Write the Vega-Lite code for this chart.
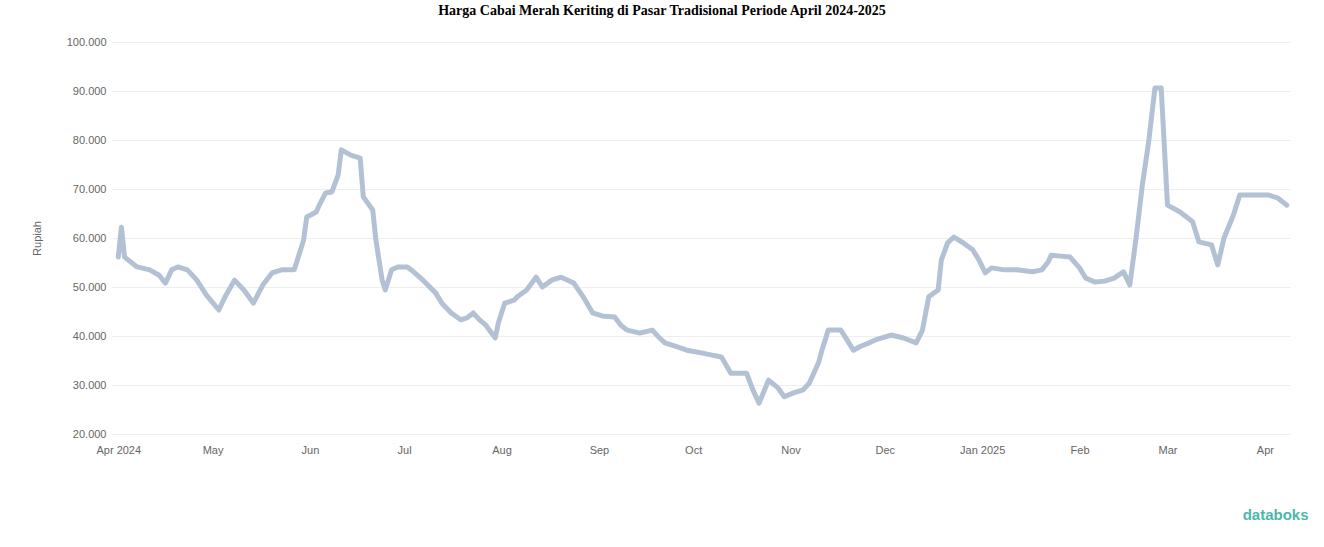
{
  "$schema": "https://vega.github.io/schema/vega-lite/v6.json",
  "autosize": "none",
  "width": 1178,
  "height": 392,
  "padding": {"left": 112, "top": 42, "right": 34, "bottom": 113},
  "background": "white",
  "title": {
    "text": "Harga Cabai Merah Keriting di Pasar Tradisional Periode April 2024-2025",
    "font": "Liberation Serif",
    "fontSize": 14,
    "fontWeight": "bold",
    "color": "#000000",
    "anchor": "middle",
    "dx": -39,
    "offset": 18
  },
  "config": {
    "view": {"stroke": null},
    "axis": {"labelFont": "Liberation Sans", "titleFont": "Liberation Sans"}
  },
  "data": {
    "values": [
      {"date": "2024-04-01", "price": 56100},
      {"date": "2024-04-02", "price": 62200},
      {"date": "2024-04-03", "price": 56100},
      {"date": "2024-04-07", "price": 54100},
      {"date": "2024-04-11", "price": 53500},
      {"date": "2024-04-14", "price": 52400},
      {"date": "2024-04-16", "price": 50800},
      {"date": "2024-04-18", "price": 53500},
      {"date": "2024-04-20", "price": 54100},
      {"date": "2024-04-23", "price": 53500},
      {"date": "2024-04-26", "price": 51400},
      {"date": "2024-04-29", "price": 48400},
      {"date": "2024-05-03", "price": 45300},
      {"date": "2024-05-05", "price": 48000},
      {"date": "2024-05-08", "price": 51400},
      {"date": "2024-05-11", "price": 49400},
      {"date": "2024-05-14", "price": 46700},
      {"date": "2024-05-17", "price": 50400},
      {"date": "2024-05-20", "price": 52900},
      {"date": "2024-05-23", "price": 53500},
      {"date": "2024-05-27", "price": 53500},
      {"date": "2024-05-28", "price": 55500},
      {"date": "2024-05-30", "price": 59600},
      {"date": "2024-05-31", "price": 64300},
      {"date": "2024-06-03", "price": 65300},
      {"date": "2024-06-04", "price": 66700},
      {"date": "2024-06-06", "price": 69200},
      {"date": "2024-06-08", "price": 69400},
      {"date": "2024-06-10", "price": 72900},
      {"date": "2024-06-11", "price": 78000},
      {"date": "2024-06-14", "price": 76900},
      {"date": "2024-06-17", "price": 76300},
      {"date": "2024-06-18", "price": 68400},
      {"date": "2024-06-21", "price": 65700},
      {"date": "2024-06-22", "price": 59600},
      {"date": "2024-06-24", "price": 51400},
      {"date": "2024-06-25", "price": 49400},
      {"date": "2024-06-27", "price": 53500},
      {"date": "2024-06-29", "price": 54100},
      {"date": "2024-07-02", "price": 54100},
      {"date": "2024-07-04", "price": 53100},
      {"date": "2024-07-07", "price": 51400},
      {"date": "2024-07-11", "price": 48800},
      {"date": "2024-07-13", "price": 46700},
      {"date": "2024-07-16", "price": 44700},
      {"date": "2024-07-19", "price": 43300},
      {"date": "2024-07-21", "price": 43700},
      {"date": "2024-07-23", "price": 44700},
      {"date": "2024-07-25", "price": 43300},
      {"date": "2024-07-27", "price": 42200},
      {"date": "2024-07-30", "price": 39600},
      {"date": "2024-07-31", "price": 42700},
      {"date": "2024-08-02", "price": 46700},
      {"date": "2024-08-05", "price": 47300},
      {"date": "2024-08-06", "price": 48000},
      {"date": "2024-08-09", "price": 49400},
      {"date": "2024-08-12", "price": 52000},
      {"date": "2024-08-14", "price": 50000},
      {"date": "2024-08-17", "price": 51400},
      {"date": "2024-08-20", "price": 52000},
      {"date": "2024-08-24", "price": 50800},
      {"date": "2024-08-27", "price": 48000},
      {"date": "2024-08-30", "price": 44700},
      {"date": "2024-09-02", "price": 44100},
      {"date": "2024-09-06", "price": 43900},
      {"date": "2024-09-08", "price": 42200},
      {"date": "2024-09-10", "price": 41200},
      {"date": "2024-09-14", "price": 40600},
      {"date": "2024-09-18", "price": 41200},
      {"date": "2024-09-20", "price": 39800},
      {"date": "2024-09-22", "price": 38600},
      {"date": "2024-09-26", "price": 37800},
      {"date": "2024-09-29", "price": 37100},
      {"date": "2024-10-04", "price": 36500},
      {"date": "2024-10-07", "price": 36100},
      {"date": "2024-10-10", "price": 35700},
      {"date": "2024-10-13", "price": 32400},
      {"date": "2024-10-16", "price": 32400},
      {"date": "2024-10-18", "price": 32400},
      {"date": "2024-10-20", "price": 29000},
      {"date": "2024-10-22", "price": 26300},
      {"date": "2024-10-25", "price": 31000},
      {"date": "2024-10-28", "price": 29400},
      {"date": "2024-10-30", "price": 27600},
      {"date": "2024-11-02", "price": 28400},
      {"date": "2024-11-05", "price": 29000},
      {"date": "2024-11-07", "price": 30400},
      {"date": "2024-11-10", "price": 34700},
      {"date": "2024-11-11", "price": 37100},
      {"date": "2024-11-13", "price": 41200},
      {"date": "2024-11-17", "price": 41200},
      {"date": "2024-11-19", "price": 39200},
      {"date": "2024-11-21", "price": 37100},
      {"date": "2024-11-23", "price": 37800},
      {"date": "2024-11-26", "price": 38600},
      {"date": "2024-11-28", "price": 39200},
      {"date": "2024-12-03", "price": 40200},
      {"date": "2024-12-07", "price": 39600},
      {"date": "2024-12-11", "price": 38600},
      {"date": "2024-12-13", "price": 41200},
      {"date": "2024-12-15", "price": 48000},
      {"date": "2024-12-18", "price": 49400},
      {"date": "2024-12-19", "price": 55500},
      {"date": "2024-12-21", "price": 59000},
      {"date": "2024-12-23", "price": 60200},
      {"date": "2024-12-26", "price": 59000},
      {"date": "2024-12-29", "price": 57600},
      {"date": "2024-12-31", "price": 55500},
      {"date": "2025-01-02", "price": 52900},
      {"date": "2025-01-04", "price": 53900},
      {"date": "2025-01-08", "price": 53500},
      {"date": "2025-01-12", "price": 53500},
      {"date": "2025-01-17", "price": 53100},
      {"date": "2025-01-20", "price": 53500},
      {"date": "2025-01-22", "price": 55100},
      {"date": "2025-01-23", "price": 56500},
      {"date": "2025-01-26", "price": 56300},
      {"date": "2025-01-29", "price": 56100},
      {"date": "2025-02-01", "price": 53900},
      {"date": "2025-02-03", "price": 51800},
      {"date": "2025-02-06", "price": 51000},
      {"date": "2025-02-09", "price": 51200},
      {"date": "2025-02-12", "price": 51800},
      {"date": "2025-02-15", "price": 53100},
      {"date": "2025-02-17", "price": 50400},
      {"date": "2025-02-19", "price": 60000},
      {"date": "2025-02-21", "price": 70800},
      {"date": "2025-02-23", "price": 79600},
      {"date": "2025-02-25", "price": 90600},
      {"date": "2025-02-27", "price": 90600},
      {"date": "2025-03-01", "price": 66700},
      {"date": "2025-03-05", "price": 65300},
      {"date": "2025-03-09", "price": 63300},
      {"date": "2025-03-11", "price": 59200},
      {"date": "2025-03-15", "price": 58600},
      {"date": "2025-03-17", "price": 54500},
      {"date": "2025-03-19", "price": 60000},
      {"date": "2025-03-22", "price": 64700},
      {"date": "2025-03-24", "price": 68800},
      {"date": "2025-03-28", "price": 68800},
      {"date": "2025-04-02", "price": 68800},
      {"date": "2025-04-05", "price": 68200},
      {"date": "2025-04-08", "price": 66700}
    ]
  },
  "mark": {"type": "line", "color": "#b3c1d5", "strokeWidth": 5, "strokeJoin": "round", "strokeCap": "round"},
  "encoding": {
    "x": {
      "field": "date",
      "type": "temporal",
      "scale": {"domain": ["2024-03-30", "2025-04-09"]},
      "axis": {
        "tickCount": {"interval": "month", "step": 1},
        "labelExpr": "month(datum.value) == 0 || datum.index == 0 ? timeFormat(datum.value, '%b %Y') : timeFormat(datum.value, '%b')",
        "labelColor": "#666666",
        "labelFontSize": 11,
        "labelPadding": 10,
        "labelOverlap": false,
        "ticks": false,
        "domain": false,
        "grid": false,
        "title": "databoks",
        "titleColor": "#4db6ac",
        "titleFontSize": 15,
        "titleFontWeight": "bold",
        "titleFont": "Liberation Sans",
        "titleAnchor": "end",
        "titlePadding": 52,
        "titleX": 1196
      }
    },
    "y": {
      "field": "price",
      "type": "quantitative",
      "scale": {"domain": [20000, 100000], "nice": false},
      "axis": {
        "values": [20000, 30000, 40000, 50000, 60000, 70000, 80000, 90000, 100000],
        "labelExpr": "replace(format(datum.value, ','), ',', '.')",
        "labelColor": "#666666",
        "labelFontSize": 11,
        "labelPadding": 6,
        "ticks": false,
        "domain": false,
        "gridColor": "#eeeeee",
        "gridWidth": 1,
        "title": "Rupiah",
        "titleColor": "#666666",
        "titleFontSize": 11,
        "titleFontWeight": "normal",
        "titlePadding": 24
      }
    }
  }
}
